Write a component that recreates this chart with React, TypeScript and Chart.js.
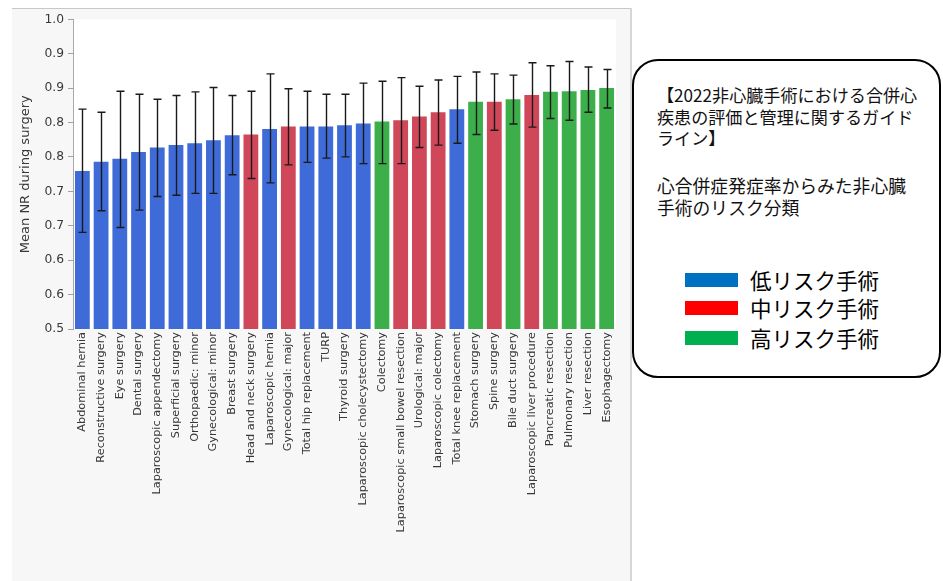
import React, { useEffect, useRef } from "react";
import { Chart, registerables } from "chart.js";

Chart.register(...registerables);

const categories = [
  "Abdominal hernia",
  "Reconstructive surgery",
  "Eye surgery",
  "Dental surgery",
  "Laparoscopic appendectomy",
  "Superficial surgery",
  "Orthopaedic: minor",
  "Gynecological: minor",
  "Breast surgery",
  "Head and neck surgery",
  "Laparoscopic hernia",
  "Gynecological: major",
  "Total hip replacement",
  "TURP",
  "Thyroid surgery",
  "Laparoscopic cholecystectomy",
  "Colectomy",
  "Laparoscopic small bowel resection",
  "Urological: major",
  "Laparoscopic colectomy",
  "Total knee replacement",
  "Stomach surgery",
  "Spine surgery",
  "Bile duct surgery",
  "Laparoscopic liver procedure",
  "Pancreatic resection",
  "Pulmonary resection",
  "Liver resection",
  "Esophagectomy",
];

const riskLevels = [
  "low", "low", "low", "low", "low", "low", "low", "low", "low", "mid",
  "low", "mid", "low", "low", "low", "low", "high", "mid", "mid", "mid",
  "low", "high", "mid", "high", "mid", "high", "high", "high", "high",
];

const meanValues = [
  0.755, 0.770, 0.775, 0.786, 0.793, 0.797, 0.800, 0.805, 0.813, 0.814,
  0.823, 0.827, 0.827, 0.827, 0.829, 0.832, 0.835, 0.837, 0.843, 0.850,
  0.855, 0.867, 0.867, 0.871, 0.878, 0.883, 0.884, 0.886, 0.889,
];

const upperValues = [
  0.855, 0.850, 0.884, 0.879, 0.871, 0.877, 0.883, 0.890, 0.877, 0.884,
  0.912, 0.888, 0.884, 0.879, 0.879, 0.897, 0.900, 0.906, 0.892, 0.902,
  0.908, 0.915, 0.912, 0.910, 0.930, 0.925, 0.932, 0.923, 0.919,
];

const lowerValues = [
  0.656, 0.691, 0.664, 0.692, 0.714, 0.716, 0.719, 0.719, 0.749, 0.743,
  0.736, 0.765, 0.769, 0.776, 0.778, 0.767, 0.767, 0.767, 0.793, 0.797,
  0.800, 0.814, 0.821, 0.831, 0.826, 0.840, 0.837, 0.850, 0.857,
];

const yTickLabels = ["0.5", "0.6", "0.6", "0.7", "0.7", "0.8", "0.8", "0.9", "0.9", "1.0"];
const yMin = 0.5;
const yMax = 1.0;

const barColors: Record<string, string> = {
  low: "#3f6bd8",
  mid: "#d1475a",
  high: "#3caf4b",
};

const legendItems = [
  { label: "低リスク手術", color: "#0070c0" },
  { label: "中リスク手術", color: "#ff0000" },
  { label: "高リスク手術", color: "#00b050" },
];

const titleLines = [
  "【2022非心臓手術における合併心",
  "疾患の評価と管理に関するガイド",
  "ライン】",
];
const subtitleLines = ["心合併症発症率からみた非心臓", "手術のリスク分類"];

const PANEL_W = 620;
const PANEL_H = 573;

export default function App() {
  const canvasRef = useRef<HTMLCanvasElement | null>(null);

  useEffect(() => {
    const canvas = canvasRef.current;
    if (!canvas) return;

    const plotBg = {
      id: "plotBg",
      beforeDraw(chart: any) {
        const { ctx, chartArea } = chart;
        ctx.save();
        ctx.fillStyle = "#ffffff";
        ctx.fillRect(chartArea.left, chartArea.top, chartArea.right - chartArea.left, chartArea.bottom - chartArea.top);
        ctx.restore();
      },
    };

    const errorBars = {
      id: "errorBars",
      afterDatasetsDraw(chart: any) {
        const { ctx } = chart;
        const meta = chart.getDatasetMeta(0);
        const yScale = chart.scales.y;
        ctx.save();
        ctx.strokeStyle = "#1a1a1a";
        ctx.lineWidth = 1.4;
        meta.data.forEach((bar: any, i: number) => {
          const x = Math.round(bar.x) + 0.5;
          const yT = yScale.getPixelForValue(upperValues[i]);
          const yB = yScale.getPixelForValue(lowerValues[i]);
          const cap = 4;
          ctx.beginPath();
          ctx.moveTo(x, yT);
          ctx.lineTo(x, yB);
          ctx.moveTo(x - cap, yT);
          ctx.lineTo(x + cap, yT);
          ctx.moveTo(x - cap, yB);
          ctx.lineTo(x + cap, yB);
          ctx.stroke();
        });
        ctx.restore();
      },
    };

    const chart = new Chart(canvas, {
      type: "bar",
      data: {
        labels: categories,
        datasets: [
          {
            data: meanValues,
            backgroundColor: riskLevels.map((r) => barColors[r]),
            borderWidth: 0,
            categoryPercentage: 1,
            barPercentage: 0.79,
          },
        ],
      },
      options: {
        responsive: false,
        animation: false,
        devicePixelRatio: 1,
        layout: { padding: { top: 8.5, right: 16, left: 0, bottom: 0 } },
        plugins: {
          legend: { display: false },
          tooltip: { enabled: false },
        },
        scales: {
          x: {
            grid: { display: false, drawTicks: false },
            border: { display: false },
            ticks: {
              autoSkip: false,
              minRotation: 90,
              maxRotation: 90,
              padding: 3,
              color: "#383838",
              font: { family: "DejaVu Sans", size: 11.3 },
            },
            afterFit(scale: any) {
              scale.height = 252;
            },
          },
          y: {
            min: yMin,
            max: yMax,
            grid: { drawOnChartArea: false, drawTicks: true, tickLength: 5, color: "#a0a0a0" },
            border: { display: true, color: "#a8a8a8", width: 1 },
            ticks: {
              padding: 4,
              color: "#383838",
              font: { family: "DejaVu Sans", size: 12.3 },
              callback: (_v: any, i: number) => yTickLabels[i],
            },
            afterBuildTicks(scale: any) {
              const n = yTickLabels.length;
              scale.ticks = yTickLabels.map((_, i) => ({ value: yMin + (i * (yMax - yMin)) / (n - 1) }));
            },
            title: {
              display: true,
              text: "Mean NR during surgery",
              color: "#383838",
              font: { family: "DejaVu Sans", size: 13 },
              padding: { top: 6, bottom: 0 },
            },
            afterFit(scale: any) {
              scale.width = 61;
            },
          },
        },
      },
      plugins: [plotBg, errorBars],
    } as any);

    return () => chart.destroy();
  }, []);

  const jpFont = '"Noto Sans CJK JP", "Noto Sans", sans-serif';

  return (
    <div style={{ position: "absolute", left: 0, top: 0, width: 943, height: 581, overflow: "hidden", background: "#ffffff" }}>
      <div style={{ position: "absolute", left: 12, top: 8, width: PANEL_W, height: PANEL_H, background: "#f7f7f7" }}>
        <canvas ref={canvasRef} width={PANEL_W} height={PANEL_H} style={{ position: "absolute", left: 0, top: 0, width: PANEL_W, height: PANEL_H }} />
        <div style={{ position: "absolute", left: 0, top: 0, width: PANEL_W, height: 1, background: "#c8c8c8" }} />
        <div style={{ position: "absolute", left: PANEL_W - 2, top: 0, width: 2, height: PANEL_H, background: "#d6d6d6" }} />
      </div>
      <div
        style={{
          position: "absolute",
          left: 632,
          top: 59,
          width: 309,
          height: 319,
          boxSizing: "border-box",
          border: "2.5px solid #000",
          borderRadius: 26,
          background: "#ffffff",
        }}
      />
      {titleLines.map((t, i) => (
        <div
          key={"t" + i}
          style={{
            position: "absolute",
            left: 657,
            top: 95 + i * 21.7 - 12,
            height: 24,
            lineHeight: "24px",
            fontFamily: jpFont,
            fontSize: 17.1,
            color: "#111",
            whiteSpace: "nowrap",
          }}
        >
          {t}
        </div>
      ))}
      {subtitleLines.map((t, i) => (
        <div
          key={"s" + i}
          style={{
            position: "absolute",
            left: 657,
            top: 185 + i * 21.7 - 12,
            height: 24,
            lineHeight: "24px",
            fontFamily: jpFont,
            fontSize: 17.8,
            color: "#111",
            whiteSpace: "nowrap",
          }}
        >
          {t}
        </div>
      ))}
      {legendItems.map((item, i) => {
        const cy = [280, 308, 337.5][i];
        return (
          <React.Fragment key={"l" + i}>
            <div style={{ position: "absolute", left: 685, top: cy - 7, width: 53, height: 14, background: item.color }} />
            <div
              style={{
                position: "absolute",
                left: 750,
                top: cy - 15,
                height: 30,
                lineHeight: "30px",
                fontFamily: jpFont,
                fontSize: 21.5,
                color: "#000",
                whiteSpace: "nowrap",
              }}
            >
              {item.label}
            </div>
          </React.Fragment>
        );
      })}
    </div>
  );
}
